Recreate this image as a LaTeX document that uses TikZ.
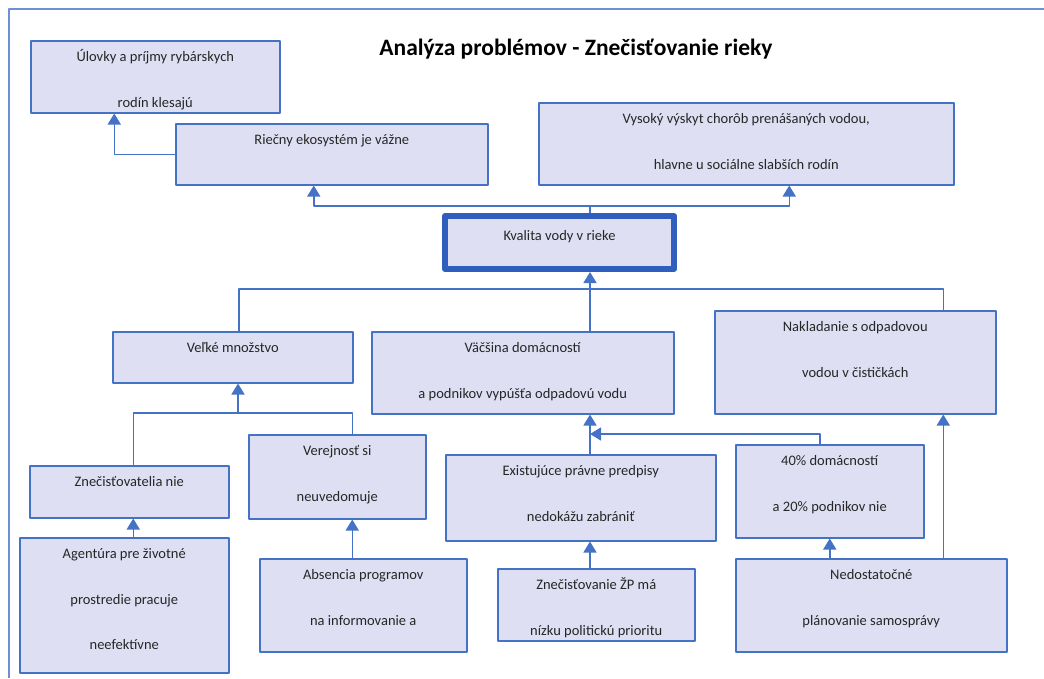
\documentclass[tikz,border=0pt]{standalone}
\usepackage{fontspec}
\setmainfont{Carlito}
\usetikzlibrary{arrows.meta}
\definecolor{boxblue}{HTML}{4472C4}
\definecolor{boxfill}{HTML}{DFDFF4}
\definecolor{deepblue}{HTML}{2F5EBF}
\definecolor{frameblue}{HTML}{6E8FD6}
\definecolor{txtgray}{HTML}{262626}
% lines of a box, baselines 45.5pt apart
\newcommand\boxtext[3][21.5]{%
	\foreach \t [count=\i] in {#3}
	{\node[txt] (#2-\i) at ([yshift={-#1-45.5*(\i-1)}]#2.north) {\t};}}
\begin{document}
\begin{tikzpicture}[x=1pt,y=-1pt,line join=round,
	box/.style={draw=boxblue,fill=boxfill,line width=1.5pt,anchor=north west,inner sep=0pt},
	txt/.style={anchor=base,inner sep=0pt,text=txtgray,font=\fontsize{14.5}{17}\selectfont},
	link/.style={draw=boxblue,line width=1.5pt},
	arr/.style={link,-{Triangle[length=11pt,width=13pt]}}]
	\useasboundingbox (0,0) rectangle (1044,678);
	\draw[frameblue,line width=1.5pt] (9,678) -- (9,9) -- (1044,9);
	\node[font=\fontsize{23.5}{27}\selectfont\bfseries] (title) at (576,49) {Analýza problémov - Znečisťovanie rieky};
	\foreach \n/\x/\y/\w/\h in {
		ulovky/30/40/249/72,
		riecny/175/123/312/61,
		vysoky/538/102/415/82,
		velke/112/331/240/51,
		vacsina/371/331/302/82,
		nakladanie/714/310/281/103,
		znecist/29/465/199/52,
		verejnost/248/434/177/84,
		agentura/19/537/209/135,
		absencia/259/558/207/93,
		existujuce/445/454/270/86,
		zp/497/568/197/72,
		pct/735/444/188/93,
		nedost/735/558/271/93}
	{\node[box,minimum width=\w,minimum height=\h] (\n) at (\x,\y) {};}
	\node[box,draw=deepblue,line width=6pt,minimum width=229,minimum height=53] (kvalita) at (442,213) {};
	\path
	(590,206) coordinate (top)
	(590,289) coordinate (mid)
	(238,413) coordinate (vj)
	(590,434) coordinate (vj2)
	;
	% effects
	\draw[link] (kvalita.north -| top) -- (top);
	\draw[arr] (top) -| ([xshift=-18]riecny.south);
	\draw[arr] (top) -| ([xshift=43]vysoky.south);
	\draw[arr] (riecny.west) -| ([xshift=-41]ulovky.south);
	% causes
	\draw[link] ([xshift=6]velke.north) |- (mid) -| ([xshift=88]nakladanie.north);
	\draw[arr] (mid |- vacsina.north) -- (mid |- kvalita.south);
	\draw[arr] (vj) -- (vj |- velke.south);
	\draw[link] ([xshift=4]znecist.north) |- (vj) -| ([xshift=15]verejnost.north);
	\draw[arr] ([xshift=9]agentura.north) -- ([xshift=9]agentura.north |- znecist.south);
	\draw[arr] ([xshift=-11]absencia.north) -- ([xshift=-11]absencia.north |- verejnost.south);
	\draw[arr] (mid |- existujuce.north) -- (mid |- vacsina.south);
	\draw[arr] ([xshift=-10]pct.north) |- (vj2);
	\draw[arr] (mid |- zp.north) -- (mid |- existujuce.south);
	\draw[arr] (pct.south |- nedost.north) -- (pct.south);
	\draw[arr] ([xshift=88]nakladanie.south |- nedost.north) -- ([xshift=88]nakladanie.south);
	% texts
	\boxtext{ulovky}{Úlovky a príjmy rybárskych,rodín klesajú}
	\boxtext{riecny}{Riečny ekosystém je vážne}
	\boxtext{vysoky}{{Vysoký výskyt chorôb prenášaných vodou,},hlavne u sociálne slabších rodín}
	\boxtext[27]{kvalita}{Kvalita vody v rieke}
	\boxtext{velke}{Veľké množstvo}
	\boxtext{vacsina}{Väčšina domácností,a podnikov vypúšťa odpadovú vodu}
	\boxtext{nakladanie}{Nakladanie s odpadovou,vodou v čističkách}
	\boxtext{znecist}{Znečisťovatelia nie}
	\boxtext{verejnost}{Verejnosť si,neuvedomuje}
	\boxtext{agentura}{Agentúra pre životné,prostredie pracuje,neefektívne}
	\boxtext{absencia}{Absencia programov,na informovanie a}
	\boxtext{existujuce}{Existujúce právne predpisy,nedokážu zabrániť}
	\boxtext{zp}{Znečisťovanie ŽP má,nízku politickú prioritu}
	\boxtext{pct}{40\% domácností,a 20\% podnikov nie}
	\boxtext{nedost}{Nedostatočné,plánovanie samosprávy}
\end{tikzpicture}
\end{document}
